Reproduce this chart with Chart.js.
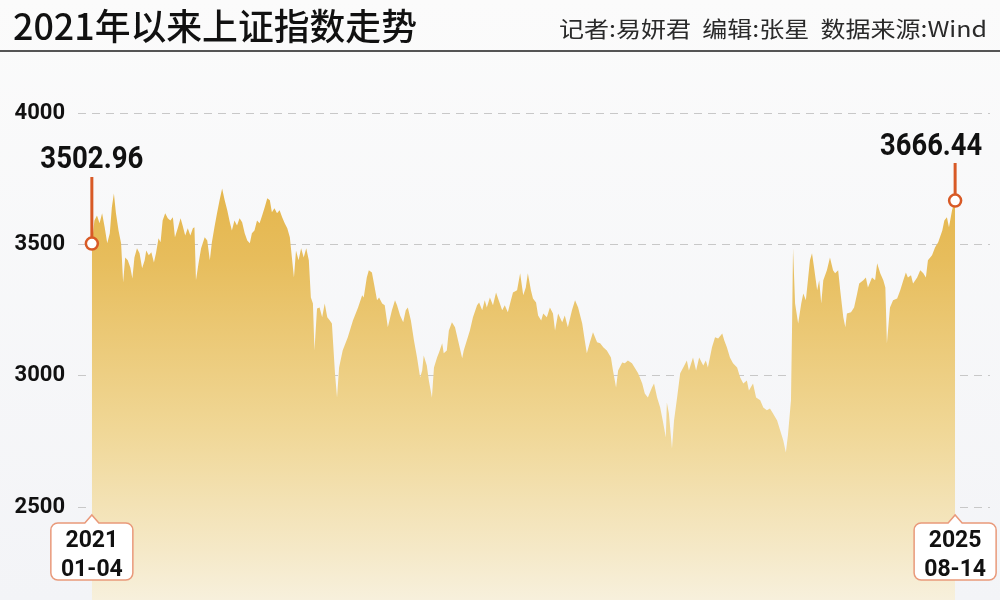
<!DOCTYPE html>
<html>
<head>
<meta charset="utf-8">
<script src="https://cdn.jsdelivr.net/npm/chart.js@4/dist/chart.umd.min.js"></script>
<style>
  html, body { margin: 0; padding: 0; background: #f7f7f8; }
  #wrap { width: 1000px; height: 600px; }
</style>
</head>
<body>
<div id="wrap"><canvas id="myChart" width="1000" height="600"></canvas></div>
<script>
// calendar days since 2021-01-04
var days = [
  0,5,10,15,20,25,30,35,39,43,
  47,52,57,61,65,70,75,79,83,88,
  93,98,103,106,111,116,121,125,130,134,
  138,143,148,153,158,162,168,173,177,182,
  187,192,197,200,203,208,213,220,225,230,
  234,239,244,249,254,259,264,269,273,278,
  283,288,293,298,303,308,312,317,322,327,
  332,337,342,347,351,356,361,366,371,376,
  381,386,390,394,398,403,408,413,418,423,
  427,431,434,439,444,449,454,459,464,468,
  474,478,482,489,499,509,519,527,530,536,
  540,546,550,556,560,566,571,577,585,591,
  595,601,607,612,616,622,628,634,640,644,
  647,653,657,663,667,673,677,683,686,692,
  696,702,708,714,722,725,731,737,743,751,
  755,761,766,770,776,782,788,792,800,805,
  811,817,821,829,835,841,846,850,856,860,
  866,870,876,880,887,893,899,903,909,917,
  922,928,936,942,948,956,961,965,971,977,
  985,991,997,1004,1012,1016,1022,1026,1034,1039,
  1045,1053,1059,1065,1073,1078,1084,1092,1096,1102,
  1108,1113,1119,1121,1125,1131,1135,1141,1147,1153,
  1160,1164,1172,1178,1184,1192,1197,1201,1209,1215,
  1221,1229,1233,1238,1244,1250,1258,1264,1270,1277,
  1281,1289,1295,1303,1309,1316,1322,1328,1336,1342,
  1348,1353,1357,1363,1365,1367,1371,1377,1383,1387,
  1392,1396,1400,1404,1408,1414,1418,1422,1426,1433,
  1439,1445,1449,1455,1459,1465,1469,1472,1480,1486,
  1492,1496,1504,1509,1513,1521,1527,1531,1537,1543,
  1547,1550,1556,1562,1570,1576,1582,1587,1591,1597,
  1601,1609,1615,1621,1626,1630,1638,1644,1650,1658,
  1662,1667,1671,1677,1681,1683
];

var closes = [
  3502.96,3591,3610,3580,3618,3565,3504,3542,3641,3694,
  3618,3553,3504,3355,3450,3439,3412,3370,3450,3485,
  3466,3409,3439,3477,3458,3470,3431,3466,3523,3508,
  3591,3618,3599,3591,3603,3527,3565,3599,3572,3534,
  3561,3534,3561,3565,3363,3428,3485,3527,3515,3439,
  3508,3565,3618,3668,3713,3668,3630,3584,3553,3591,
  3572,3599,3584,3542,3515,3504,3542,3553,3591,3580,
  3610,3641,3675,3668,3622,3637,3618,3630,3603,3580,
  3561,3527,3450,3374,3477,3439,3485,3450,3485,3439,
  3298,3275,3096,3256,3260,3222,3275,3222,3210,3199,
  3009,2917,3031,3096,3146,3210,3260,3306,3298,3374,
  3401,3393,3351,3287,3298,3275,3268,3184,3249,3287,
  3268,3229,3203,3249,3260,3210,3134,3069,2993,3020,
  3077,3039,2982,2917,3031,3069,3089,3123,3085,3096,
  3172,3203,3184,3134,3066,3096,3134,3172,3222,3268,
  3279,3249,3287,3260,3298,3268,3317,3294,3249,3268,
  3241,3287,3317,3325,3390,3306,3336,3390,3325,3294,
  3279,3229,3210,3237,3222,3260,3237,3172,3237,3203,
  3229,3184,3249,3287,3260,3199,3134,3085,3127,3165,
  3127,3123,3108,3096,3069,3020,2955,3020,3050,3047,
  3058,3047,3028,3009,2970,2932,2917,2955,2970,2917,
  2879,2829,2765,2898,2856,2723,2829,2917,3009,3031,
  3058,3020,3069,3020,3069,3039,3058,3031,3108,3146,
  3142,3161,3134,3108,3069,3047,3031,2993,2970,2982,
  2944,2970,2917,2906,2879,2868,2875,2856,2829,2791,
  2753,2708,2772,2906,3172,3485,3275,3199,3275,3313,
  3287,3363,3439,3466,3412,3325,3363,3275,3363,3401,
  3450,3401,3390,3401,3325,3222,3184,3237,3241,3260,
  3313,3351,3363,3374,3336,3374,3363,3428,3390,3363,
  3336,3123,3260,3287,3294,3325,3363,3393,3374,3382,
  3351,3374,3401,3390,3374,3439,3458,3489,3508,3553,
  3591,3603,3565,3630,3656,3666.44
];

var yTicks = [2500, 3000, 3500, 4000];
var dateLabels = [['2021', '01-04'], ['2025', '08-14']];
var title = '2021年以来上证指数走势';
var credits = '记者:易妍君  编辑:张星  数据来源:Wind';

var points = days.map(function(d, i) { return { x: d, y: closes[i] }; });

// draw text squeezed/stretched to a given width
function fitText(ctx, text, x, y, width, align) {
    var w = ctx.measureText(text).width;
    var s = width / w;
    ctx.save();
    ctx.translate(x, y);
    ctx.scale(s, 1);
    ctx.textAlign = align || 'left';
    ctx.fillText(text, 0, 0);
    ctx.restore();
}

var backdrop = {
    id: 'backdrop',
    beforeDraw: function(chart) {
        var ctx = chart.ctx;
        ctx.save();
        var bg = ctx.createLinearGradient(0, 0, 0, 600);
        bg.addColorStop(0, '#fbfbfb');
        bg.addColorStop(1, '#f3f4f7');
        ctx.fillStyle = bg;
        ctx.fillRect(0, 0, chart.width, chart.height);

        ctx.fillStyle = '#111';
        ctx.textBaseline = 'alphabetic';
        ctx.font = '500 36px "Noto Sans CJK SC"';
        fitText(ctx, title, 13, 40, 404, 'left');

        ctx.fillStyle = '#2a2a2a';
        ctx.font = '22px "Noto Sans CJK SC"';
        fitText(ctx, credits, 987, 37, 428, 'right');

        ctx.strokeStyle = '#555';
        ctx.lineWidth = 2;
        ctx.beginPath();
        ctx.moveTo(0, 51);
        ctx.lineTo(chart.width, 51);
        ctx.stroke();
        ctx.restore();
    }
};

var markers = {
    id: 'markers',
    afterDatasetsDraw: function(chart) {
        var ctx = chart.ctx;
        var meta = chart.getDatasetMeta(0);
        var first = meta.data[0];
        var last = meta.data[meta.data.length - 1];
        var orange = '#d85a26';

        ctx.save();
        // value markers
        [[first, 177, closes[0]], [last, 163, closes[closes.length - 1]]].forEach(function(m, i) {
            var p = m[0];
            ctx.strokeStyle = orange;
            ctx.lineWidth = 3;
            ctx.beginPath();
            ctx.moveTo(p.x, m[1]);
            ctx.lineTo(p.x, p.y - 6);
            ctx.stroke();

            ctx.beginPath();
            ctx.arc(p.x, p.y, 6, 0, Math.PI * 2);
            ctx.fillStyle = '#fff';
            ctx.fill();
            ctx.lineWidth = 2.5;
            ctx.stroke();

            ctx.fillStyle = '#111';
            ctx.font = 'bold 31px Roboto';
            ctx.textBaseline = 'alphabetic';
            if (i === 0) {
                fitText(ctx, m[2].toFixed(2), p.x, 168, 103, 'center');
            } else {
                fitText(ctx, m[2].toFixed(2), p.x + 27, 155, 102, 'right');
            }
        });

        // date boxes under the ends
        var xs = chart.scales.x;
        [days[0], days[days.length - 1]].forEach(function(d, i) {
            var cx = xs.getPixelForValue(d);
            var w = 82, h = 57, top = 523, r = 7;
            var l = cx - w / 2;
            ctx.beginPath();
            ctx.moveTo(l + r, top);
            ctx.lineTo(cx - 7, top);
            ctx.lineTo(cx, top - 8);
            ctx.lineTo(cx + 7, top);
            ctx.lineTo(l + w - r, top);
            ctx.arcTo(l + w, top, l + w, top + r, r);
            ctx.lineTo(l + w, top + h - r);
            ctx.arcTo(l + w, top + h, l + w - r, top + h, r);
            ctx.lineTo(l + r, top + h);
            ctx.arcTo(l, top + h, l, top + h - r, r);
            ctx.lineTo(l, top + r);
            ctx.arcTo(l, top, l + r, top, r);
            ctx.closePath();
            ctx.fillStyle = '#fff';
            ctx.fill();
            ctx.strokeStyle = '#e9997a';
            ctx.lineWidth = 1.5;
            ctx.stroke();

            ctx.fillStyle = '#111';
            ctx.font = 'bold 23px Roboto';
            ctx.textAlign = 'center';
            ctx.fillText(dateLabels[i][0], cx, 547);
            ctx.fillText(dateLabels[i][1], cx, 576);
        });
        ctx.restore();
    }
};

var ctx = document.getElementById('myChart').getContext('2d');

var myChart = new Chart(ctx, {
    type: 'line',
    data: {
        datasets: [{
            data: points,
            fill: 'start',
            borderWidth: 0,
            pointRadius: 0,
            tension: 0,
            backgroundColor: function(c) {
                var area = c.chart.chartArea;
                if (!area) return '#e8c060';
                var g = c.chart.ctx.createLinearGradient(0, area.top, 0, area.bottom);
                g.addColorStop(0, '#e2ae3c');
                g.addColorStop(0.3, '#e7bd5c');
                g.addColorStop(0.65, '#f0d796');
                g.addColorStop(1, '#f7f0dc');
                return g;
            }
        }]
    },
    options: {
        responsive: false,
        animation: false,
        devicePixelRatio: 1,
        layout: { padding: { top: 113, left: 8, right: 10, bottom: 0 } },
        plugins: {
            legend: { display: false },
            tooltip: { enabled: false }
        },
        scales: {
            x: {
                type: 'linear',
                display: false,
                min: -27,
                max: 1751
            },
            y: {
                min: 2146,
                max: 4000,
                afterBuildTicks: function(scale) {
                    scale.ticks = yTicks.map(function(v) { return { value: v }; });
                },
                afterFit: function(scale) {
                    scale.width = 70;
                    scale.paddingTop = 0;
                    scale.paddingBottom = 0;
                },
                border: { display: false, dash: [8, 6] },
                grid: { color: '#c8c8c8', lineWidth: 1, drawTicks: false },
                ticks: {
                    padding: 13,
                    color: '#111',
                    font: { family: 'Roboto', weight: 'bold', size: 22 },
                    callback: function(v) { return String(v); }
                }
            }
        }
    },
    plugins: [backdrop, markers]
});
</script>
</body>
</html>
